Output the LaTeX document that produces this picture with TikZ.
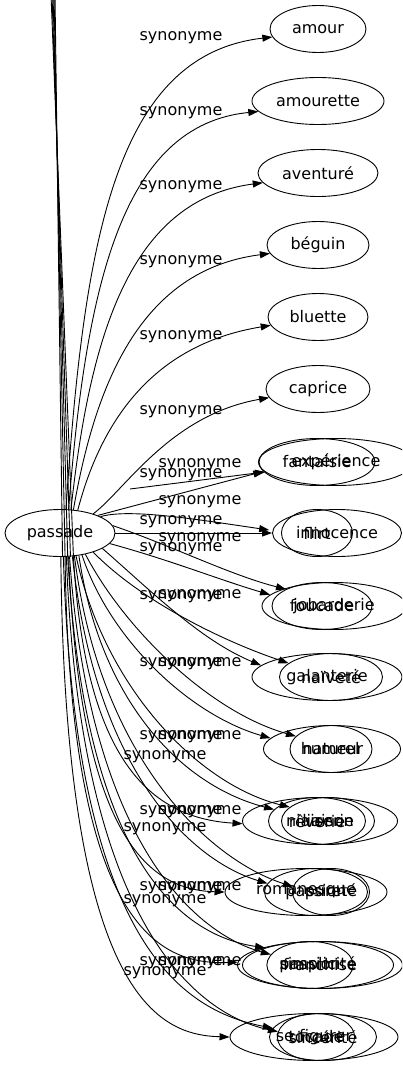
\documentclass[tikz,border=0pt]{standalone}
\usepackage{fontspec}
\setmainfont{DejaVu Sans}
\usetikzlibrary{arrows.meta,shapes.geometric}

\begin{document}
\begin{tikzpicture}[x=1bp,y=-1bp,
  wordnode/.style={ellipse,draw,line width=0.9bp,inner sep=0pt,minimum height=47bp,font=\fontsize{16bp}{19bp}\selectfont},
  synlabel/.style={inner sep=0pt,font=\fontsize{16bp}{19bp}\selectfont},
  synline/.style={line width=0.9bp},
  synedge/.style={synline,-{Triangle[length=10bp,width=7bp]}}]
%
\path[use as bounding box] (0,0) rectangle (402,1067);
\clip (0,0) rectangle (402,1067);
%
\newcommand{\word}[5]{
  \node[wordnode,minimum width=#4bp] (#1) at (#2,#3) {#5};
}
\newcommand{\syn}[4]{
  \draw[synedge] (#1) .. controls (#2) and (#3) .. (#4);
}
%
\word{passade}{60}{533}{110}{passade}
\word{amour}{318}{29}{96}{amour}
\word{amourette}{318}{101}{132}{amourette}
\word{aventure}{318}{173}{120}{aventuré}
\word{beguin}{318}{245}{102}{béguin}
\word{bluette}{318}{317}{100}{bluette}
\word{caprice}{318}{389}{104}{caprice}
\word{fantaisie}{317}{462}{116}{fantaisie}
\word{experience}{336}{462}{155}{expérience}
\word{innocence}{337}{533}{129}{innocence}
\word{flirt}{317}{533}{71}{flirt}
\word{jobarderie}{334}{606}{144}{jobarderie}
\word{foucade}{322}{606}{100}{foucade}
\word{galanterie}{327}{677}{150}{galanterie}
\word{naivete}{331}{677}{103}{naïveté}
\word{humeur}{332}{749}{137}{humeur}
\word{naturel}{331}{749}{82}{naturel}
\word{niaiserie}{320}{821}{155}{niaiserie}
\word{reverie}{317}{821}{97}{rêverie}
\word{liaison}{328}{821}{93}{liaison}
\word{romanesque}{306}{892}{162}{romanesque}
\word{passionA}{316}{892}{103}{passion}
\word{purete}{331}{892}{77}{pureté}
\word{franchise}{320}{965}{165}{franchise}
\word{simplicite}{318}{965}{151}{simplicité}
\word{passionB}{310}{965}{84}{passion}
\word{sefigurer}{314}{1037}{168}{se figurer}
\word{sincerite}{323}{1037}{107}{sincérité}
\word{tocade}{316}{1037}{72}{tocade}
%
\foreach \x/\a [count=\i] in {51/-60,52/-66,53/-72,54/-78,55/-84} {
  \coordinate (up\i) at (\x,-5);
  \draw[synline] (up\i) -- (passade.\a);
}
\coordinate (exfrom) at (130,489);
%
\syn{passade.76}{84,240}{115,55}{amour.190}
\syn{passade.70}{86,285}{122,125}{amourette.190}
\syn{passade.65}{90,335}{130,200}{aventure.190}
\syn{passade.60}{95,385}{140,270}{beguin.190}
\syn{passade.52}{100,425}{150,345}{bluette.190}
\syn{passade.30}{125,490}{170,415}{caprice.190}
%
\draw[synedge] (passade.25) -- (fantaisie.190);
\draw[synedge] (exfrom) -- (experience.188);
\draw[synedge,shorten >=12bp] (passade.22) .. controls (130,508) and (200,520) .. (flirt.178);
\draw[synedge] (passade.east) -- (innocence.west);
%
\syn{passade.-12}{170,560}{220,580}{jobarderie.170}
\syn{passade.8}{170,545}{230,575}{foucade.155}
\syn{passade.-20}{150,590}{200,640}{galanterie.170}
\syn{passade.-30}{140,600}{220,640}{naivete.162}
\syn{passade.-45}{110,640}{190,715}{humeur.170}
\syn{passade.-40}{125,630}{210,712}{naturel.160}
\syn{passade.-50}{100,700}{180,785}{reverie.165}
\syn{passade.-55}{105,690}{200,785}{liaison.160}
\syn{passade.-60}{85,760}{150,818}{niaiserie.182}
\syn{passade.-62}{95,770}{190,860}{passionA.170}
\syn{passade.-58}{100,760}{210,860}{purete.172}
\syn{passade.-70}{80,840}{150,890}{romanesque.180}
\syn{passade.-72}{85,860}{180,935}{simplicite.162}
\syn{passade.-68}{90,850}{200,935}{passionB.165}
\syn{passade.-78}{70,930}{160,965}{franchise.178}
\syn{passade.-82}{75,940}{180,1010}{sincerite.170}
\syn{passade.-75}{80,930}{200,1015}{tocade.172}
\syn{passade.-88}{65,1000}{160,1035}{sefigurer.180}
%
\foreach \x/\y [count=\i] in {181/38,181/113,181/187,181/262,181/337,181/412,
  200/465,181/475,200/502,181/522,200/539,181/549,200/596,181/597,
  200/664,181/664,200/737,181/737,165/757,200/812,181/812,165/829,
  200/888,181/888,165/901,200/963,181/963,165/973}
  \node[synlabel] (syn\i) at (\x,\y) {synonyme};
%
\end{tikzpicture}
\end{document}
